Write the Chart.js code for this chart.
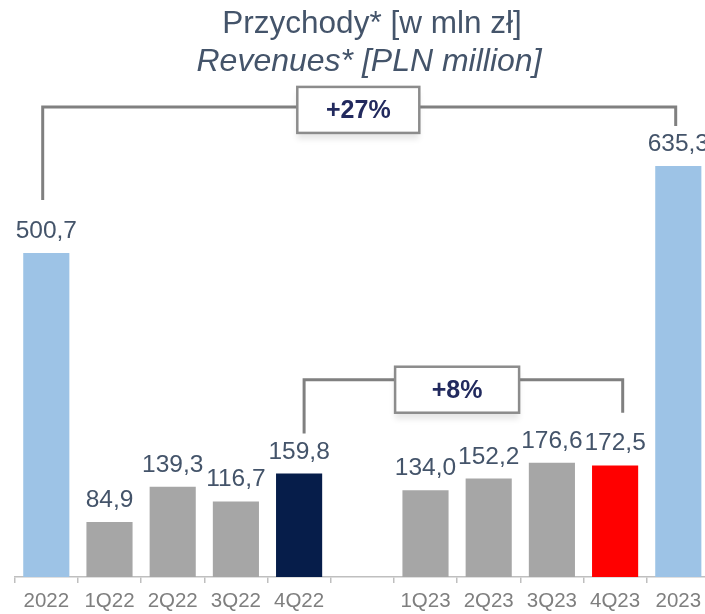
<!DOCTYPE html>
<html>
<head>
<meta charset="utf-8">
<script src="https://cdn.jsdelivr.net/npm/chart.js@4.4.1/dist/chart.umd.min.js"></script>
<style>
  html, body { margin: 0; padding: 0; overflow: hidden; background: #ffffff; width: 705px; height: 614px; }
  canvas { display: block; }
</style>
</head>
<body>
<canvas id="c" width="720" height="614" style="width:720px;height:614px"></canvas>
<script>
// ---- data ----
const categories = ['2022', '1Q22', '2Q22', '3Q22', '4Q22', '', '1Q23', '2Q23', '3Q23', '4Q23', '2023'];
const revenues = [500.7, 84.9, 139.3, 116.7, 159.8, null, 134.0, 152.2, 176.6, 172.5, 635.3];
const barColors = ['#9dc3e6', '#a6a6a6', '#a6a6a6', '#a6a6a6', '#061d4a', '#a6a6a6', '#a6a6a6', '#a6a6a6', '#a6a6a6', '#ff0000', '#9dc3e6'];
const titleLines = ['Przychody* [w mln zł]', 'Revenues* [PLN million]'];
const growthLabels = ['+27%', '+8%'];
// bracket pairs: [fromIndex, toIndex]
const bracketPairs = [[0, 10], [4, 9]];

const FONT = '"Liberation Sans", Arial, sans-serif';

function fmt(v) { return v.toFixed(1).replace('.', ','); }

const overlay = {
  id: 'overlay',
  afterDatasetsDraw(chart) {
    const ctx = chart.ctx;
    const xs = chart.scales.x, ys = chart.scales.y;
    const meta = chart.getDatasetMeta(0);
    ctx.save();
    // value labels
    ctx.fillStyle = '#44546a';
    ctx.font = '24.5px ' + FONT;
    ctx.textAlign = 'center';
    ctx.textBaseline = 'alphabetic';
    meta.data.forEach((bar, i) => {
      const v = revenues[i];
      if (v === null || v === undefined) return;
      ctx.fillText(fmt(v), bar.x, bar.y - 15);
    });

    // titles
    ctx.fillStyle = '#44546a';
    ctx.font = '31.5px ' + FONT;
    ctx.fillText(titleLines[0], 372, 33);
    ctx.font = 'italic 32px ' + FONT;
    ctx.fillText(titleLines[1], 369, 71);

    // brackets
    const drawBracket = (xl, yl, xr, yr, yh, cx, cy, label, bw) => {
      ctx.strokeStyle = '#808080';
      ctx.lineWidth = 3;
      ctx.lineJoin = 'miter';
      ctx.beginPath();
      ctx.moveTo(xl, yl);
      ctx.lineTo(xl, yh);
      ctx.lineTo(xr, yh);
      ctx.lineTo(xr, yr);
      ctx.stroke();
      const bh = 46;
      ctx.save();
      ctx.shadowColor = 'rgba(0,0,0,0.10)';
      ctx.shadowBlur = 6;
      ctx.shadowOffsetY = 6;
      ctx.fillStyle = '#ffffff';
      ctx.fillRect(cx - bw / 2, cy - bh / 2, bw, bh);
      ctx.restore();
      ctx.strokeStyle = '#8c8c8c';
      ctx.lineWidth = 2.5;
      ctx.strokeRect(cx - bw / 2, cy - bh / 2, bw, bh);
      ctx.fillStyle = '#222a5e';
      ctx.font = 'bold 25px ' + FONT;
      ctx.textAlign = 'center';
      ctx.textBaseline = 'middle';
      ctx.fillText(label, cx, cy + 1);
    };

    // bracket 1: 2022 -> 2023
    {
      const [a, b] = bracketPairs[0];
      const xa = xs.getPixelForValue(a), xb = xs.getPixelForValue(b);
      const ya = ys.getPixelForValue(revenues[a]), yb = ys.getPixelForValue(revenues[b]);
      const yh = yb - 59;
      drawBracket(xa - 3.6, ya - 53, xb - 2.6, yb - 40, yh, (xa + xb) / 2 - 4, yh + 3, growthLabels[0], 122);
    }
    // bracket 2: 4Q22 -> 4Q23
    {
      const [a, b] = bracketPairs[1];
      const xa = xs.getPixelForValue(a), xb = xs.getPixelForValue(b);
      const ya = ys.getPixelForValue(revenues[a]), yb = ys.getPixelForValue(revenues[b]);
      const yh = ys.getPixelForValue(176.6) - 83;
      drawBracket(xa + 5, ya - 40, xb + 7.6, yb - 52.7, yh, (xa + xb) / 2, yh + 10, growthLabels[1], 124);
    }
    ctx.restore();
  }
};

new Chart(document.getElementById('c'), {
  type: 'bar',
  data: {
    labels: categories,
    datasets: [{
      data: revenues,
      backgroundColor: barColors,
      borderWidth: 0,
      barPercentage: 0.73,
      categoryPercentage: 1.0
    }]
  },
  options: {
    responsive: false,
    animation: false,
    devicePixelRatio: 1,
    layout: { padding: { left: 14.7, right: 10.1, top: 0, bottom: 0 } },
    plugins: { legend: { display: false }, tooltip: { enabled: false }, title: { display: false } },
    scales: {
      x: {
        offset: true,
        grid: { display: true, drawOnChartArea: false, drawTicks: true, tickLength: 6, color: '#bfbfbf', lineWidth: 1.5, offset: true },
        border: { display: true, color: '#bfbfbf', width: 1.5 },
        ticks: { color: '#7f7f7f', font: { family: FONT, size: 20.5 }, padding: 6, maxRotation: 0, autoSkip: false },
        afterFit(scale) { scale.height = 37; }
      },
      y: { display: false, min: 0, max: 891.7 }
    }
  },
  plugins: [overlay]
});
</script>
</body>
</html>
